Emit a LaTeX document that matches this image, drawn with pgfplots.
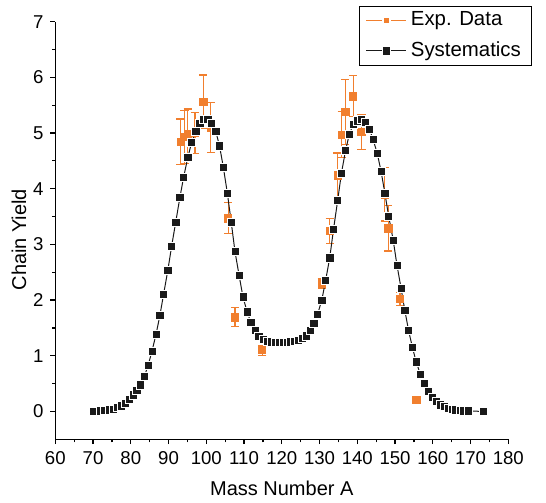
\documentclass[border=0pt]{standalone}
\usepackage{pgfplots}
\usepackage{pgfplotstable}
\pgfplotsset{compat=1.18}
\usepackage{fontspec}
\setmainfont{Liberation Sans}
\definecolor{expor}{RGB}{241,127,46}
\definecolor{sysblk}{RGB}{26,26,26}

\pgfplotstableread{
A Y E
93.2 4.84 0.41
94.2 4.93 0.48
95.1 4.98 0.45
97.0 5.00 0.37
99.2 5.56 0.48
101.2 5.10 0.45
105.8 3.47 0.28
107.6 1.69 0.17
114.8 1.10 0.09
130.6 2.30 0.09
132.7 3.24 0.23
134.8 4.24 0.40
135.9 4.97 0.41
136.8 5.38 0.58
138.9 5.66 0.37
141.1 5.02 0.31
147.3 3.90 0.48
148.2 3.29 0.41
151.3 2.02 0.12
155.7 0.21 0.03
}\expdata

\pgfplotstableread{
A Y
70.0 0.00
72.0 0.01
73.1 0.02
74.2 0.03
75.3 0.04
76.4 0.07
77.4 0.10
78.5 0.15
79.6 0.22
80.6 0.30
81.6 0.38
82.6 0.48
83.6 0.63
84.6 0.83
85.6 1.08
86.7 1.39
87.7 1.72
88.7 2.11
89.8 2.53
90.8 2.96
91.9 3.40
93.0 3.84
94.0 4.21
95.1 4.56
96.1 4.83
97.2 5.03
98.3 5.17
99.3 5.24
100.4 5.25
101.4 5.18
102.5 5.03
103.5 4.77
104.5 4.39
105.6 3.91
106.6 3.40
107.6 2.87
108.7 2.44
109.7 2.06
110.8 1.79
111.8 1.60
112.9 1.45
113.9 1.35
115.0 1.30
116.1 1.26
117.2 1.25
118.2 1.24
119.3 1.24
120.4 1.24
121.4 1.24
122.4 1.25
123.4 1.26
124.4 1.28
125.4 1.31
126.4 1.36
127.5 1.45
128.5 1.58
129.5 1.75
130.6 2.00
131.6 2.35
132.7 2.76
133.7 3.27
134.8 3.79
135.8 4.28
136.9 4.69
137.9 4.98
138.9 5.15
140.0 5.22
141.1 5.24
142.1 5.19
143.2 5.07
144.2 4.88
145.3 4.63
146.3 4.31
147.3 3.92
148.3 3.51
149.5 3.08
150.5 2.63
151.6 2.21
152.6 1.81
153.6 1.45
154.6 1.15
155.6 0.89
156.7 0.67
157.7 0.50
158.8 0.36
159.8 0.26
160.9 0.18
161.9 0.12
163.0 0.09
164.0 0.06
165.1 0.04
166.1 0.03
167.2 0.02
168.2 0.01
169.3 0.01
173.4 0.00
}\sysdata

\begin{document}
\begin{tikzpicture}
\begin{axis}[
  scale only axis, width=226.5pt, height=208.85pt,
  xmin=60, xmax=180, ymin=-0.5, ymax=7,
  axis x line*=bottom, axis y line*=left,
  axis line style={line width=0.6pt, black},
  xtick={60,70,...,180}, ytick={0,1,...,7},
  minor x tick num=1, minor y tick num=1,
  tick align=outside, major tick length=2.4pt, minor tick length=1.5pt,
  tick style={line width=0.6pt, black},
  /pgf/number format/assume math mode=true,
  tick label style={font=\fontsize{9.3}{11}\selectfont},
  label style={font=\fontsize{10}{12}\selectfont},
  xlabel={Mass Number A}, ylabel={Chain Yield},
  xlabel style={at={(axis description cs:0.5,-0.1357)}, anchor=base},
  ylabel style={at={(axis description cs:-0.080,0.478)}, anchor=center},
  legend style={at={(axis description cs:1.052,1.038)}, anchor=north east,
    draw=black, line width=0.6pt, font=\fontsize{10.2}{12}\selectfont,
    inner xsep=3.2pt, inner ysep=0.8pt, row sep=2.5pt},
  legend cell align=left,
  legend image code/.code={
    \draw[mark repeat=2, mark phase=2, #1] plot coordinates {(0pt,0pt) (10pt,0pt) (20pt,0pt)};
  },
]
\addplot[only marks, mark=square*, mark size=1.85pt, color=expor, forget plot,
  error bars/.cd, y dir=both, y explicit,
  error bar style={line width=0.6pt, expor},
  error mark options={rotate=90, mark size=2.1pt, line width=0.6pt, expor}]
  table[x=A, y=Y, y error=E] {\expdata};
\addlegendimage{expor, line width=0.5pt, mark=square*, mark size=1.7pt,
  mark options={fill=expor, draw=white, line width=1pt}}
\addlegendentry{Exp. Data}
\addplot[sysblk, line width=0.5pt, mark=square*, mark size=2.05pt,
  mark options={fill=sysblk, draw=white, line width=0.3pt}]
  table[x=A, y=Y] {\sysdata};
\addlegendentry{Systematics}
\end{axis}
\path (current axis.south west) +(-27.65pt,-29.85pt)
      (current axis.south west) +(245.35pt,219.65pt);
\end{tikzpicture}
\end{document}
